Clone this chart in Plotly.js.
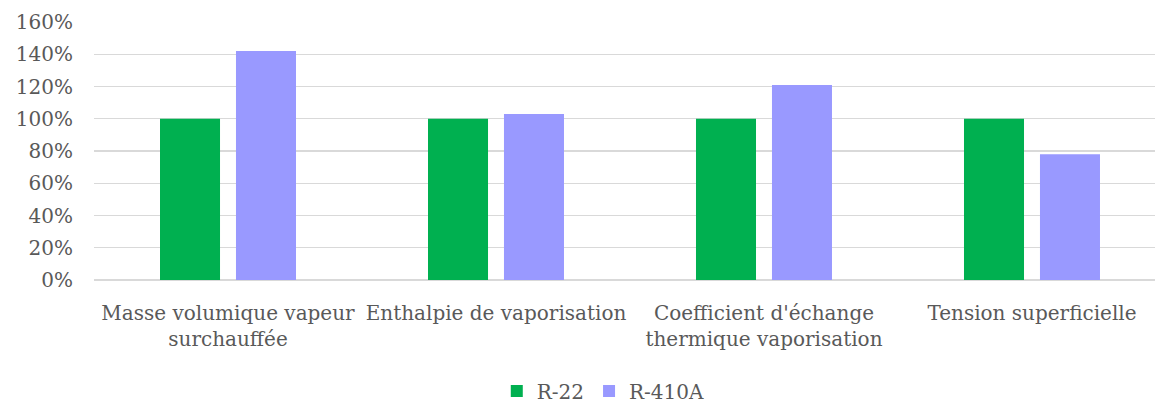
<!DOCTYPE html>
<html><head><meta charset="utf-8">
<script src="https://cdn.plot.ly/plotly-3.0.1.min.js"></script>
<style>html,body{margin:0;padding:0;background:#fff}#c{width:1155px;height:403px}</style>
</head><body><div id="c"></div>
<script>
var categories = ["Masse volumique vapeur<br>surchauffée", "Enthalpie de vaporisation", "Coefficient d'échange<br>thermique vaporisation", "Tension superficielle"];
var r22 = [100, 100, 100, 100];
var r410a = [142, 103, 121, 78];
var yTicks = [0, 20, 40, 60, 80, 100, 120, 140, 160];
var yTickText = yTicks.map(function (v) { return v + "%"; });

var font = "DejaVu Serif, Liberation Serif, serif";
var data = [
  {type: "bar", name: "R-22", x: categories, y: r22, marker: {color: "#00B050"}, hoverinfo: "y"},
  {type: "bar", name: "R-410A", x: categories, y: r410a, marker: {color: "#9999FF"}, hoverinfo: "y"}
];
var layout = {
  width: 1155, height: 403,
  margin: {l: 94, r: 0, t: 22, b: 123},
  paper_bgcolor: "#fff", plot_bgcolor: "#fff",
  font: {family: font, size: 20, color: "#595959"},
  barmode: "group", bargap: 0.433, bargroupgap: 0.21,
  showlegend: true,
  legend: {orientation: "h", x: 0.48, xanchor: "center", yref: "container", y: 0.03, yanchor: "middle", font: {size: 20, color: "#595959"}, itemwidth: 30, tracegroupgap: 0},
  xaxis: {range: [-0.5, 3.459], automargin: false, showgrid: false, showline: false, zeroline: false, ticks: "", tickfont: {size: 20, color: "#595959"}, ticklabelstandoff: 19},
  yaxis: {range: [0, 160], automargin: false, tickmode: "array", tickvals: yTicks, ticktext: yTickText, showgrid: true, gridcolor: "#D9D9D9", gridwidth: 1.3, zeroline: true, zerolinecolor: "#D9D9D9", zerolinewidth: 1.3, showline: false, ticks: "", tickfont: {size: 20, color: "#595959"}, ticklabelstandoff: 20}
};
Plotly.newPlot("c", data, layout, {displayModeBar: false, staticPlot: true});
</script></body></html>
